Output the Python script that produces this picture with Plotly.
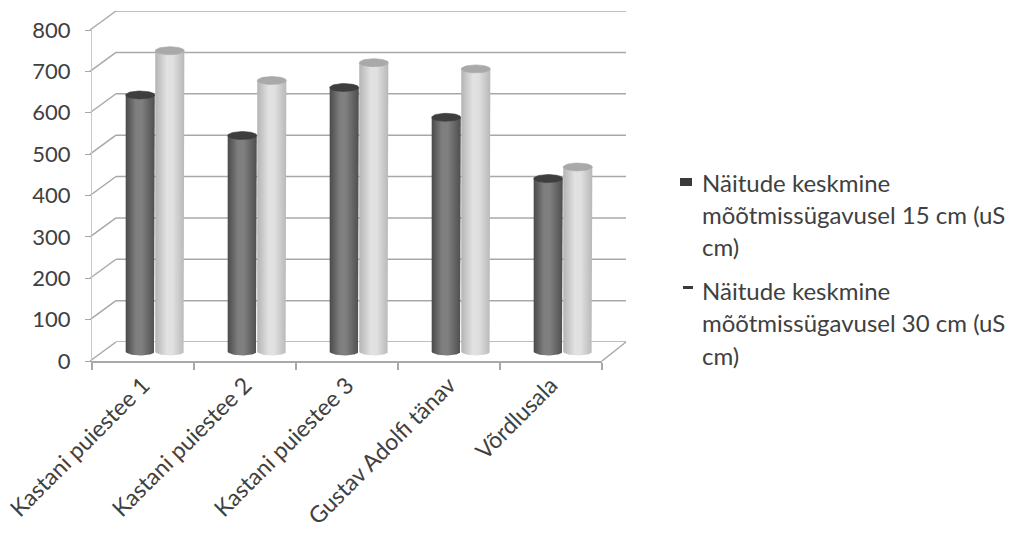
import numpy as np
import plotly.graph_objects as go

# Data
categories = ["Kastani puiestee 1", "Kastani puiestee 2", "Kastani puiestee 3",
              "Gustav Adolfi tänav", "Võrdlusala"]
series_names = ["Näitude keskmine mõõtmissügavusel 15 cm (uS cm)",
                "Näitude keskmine mõõtmissügavusel 30 cm (uS cm)"]
depth15 = [620, 522, 638, 566, 418]
depth30 = [727, 655, 698, 683, 446]
y_ticks = [0, 100, 200, 300, 400, 500, 600, 700, 800]

W, H = 1010, 536
FONT = "Lato"
TXT = "#404040"
GRID = "#a8a8a8"

# Pixel geometry of the pseudo-3D box (front face, back wall, mid plane)
FX0, FX1 = 92, 602        # front floor edge
FY0, FY1 = 361, 30        # front: value 0 / value 800
DX, DY = 24, -19          # depth offset to back wall


def xdom(x0, x1):
    return [x0 / W, x1 / W]


def ydom(y0, y1):
    return [1 - y0 / H, 1 - y1 / H]


fig = go.Figure()

# invisible traces to anchor the front and back-wall subplots
fig.add_trace(go.Scatter(x=[0], y=[0], mode="markers", marker=dict(opacity=0),
                         hoverinfo="skip", showlegend=False))
fig.add_trace(go.Scatter(x=[0], y=[0], xaxis="x2", yaxis="y2", mode="markers",
                         marker=dict(opacity=0), hoverinfo="skip", showlegend=False))

# ---- cylinders on the mid-depth plane (x3/y3) ----
ymax = 800
px_per_unit = (FY0 - FY1) / ymax
ry = 4.0 / px_per_unit            # ellipse half-height in data units
bar_w = 0.285
offs = [-0.145, 0.145]
body_scales = [
    [[0, "#4a4a4a"], [0.35, "#7e7e7e"], [0.55, "#808080"], [1, "#4e4e4e"]],
    [[0, "#b4b4b4"], [0.4, "#e2e2e2"], [0.6, "#e0e0e0"], [1, "#b8b8b8"]],
]
cap_colors = ["#3e3e3e", "#a9a9a9"]
th = np.linspace(0, np.pi, 40)
t2 = np.linspace(0, 2 * np.pi, 60)

for s, vals in enumerate([depth15, depth30]):
    for i, v in enumerate(vals):
        cx = i + offs[s]
        rx = bar_w / 2
        # body: left edge up, top, right edge down, rounded bottom
        bx = np.concatenate([[cx - rx, cx - rx, cx + rx, cx + rx],
                             cx + rx * np.cos(th)])
        by = np.concatenate([[0, v, v, 0], -ry * np.sin(th)])
        fig.add_trace(go.Scatter(
            x=bx, y=by, xaxis="x3", yaxis="y3", mode="lines",
            line=dict(width=0), fill="toself",
            fillgradient=dict(type="horizontal", colorscale=body_scales[s]),
            hoverinfo="skip", showlegend=False))
        # top cap ellipse
        fig.add_trace(go.Scatter(
            x=cx + rx * np.cos(t2), y=v + ry * np.sin(t2),
            xaxis="x3", yaxis="y3", mode="lines",
            line=dict(width=0.6, color=cap_colors[s]), fill="toself",
            fillcolor=cap_colors[s], hoverinfo="skip", showlegend=False))

xr = [-0.5, len(categories) - 0.5]
pad = 1.5 * ry                     # room below zero for the rounded bottoms

fig.update_layout(
    template="none",
    width=W, height=H, margin=dict(l=0, r=0, t=0, b=0, autoexpand=False),
    paper_bgcolor="white", plot_bgcolor="rgba(0,0,0,0)",
    showlegend=False,
    # front face: value labels and category labels
    xaxis=dict(domain=xdom(FX0, FX1), range=xr, showgrid=False, zeroline=False,
               automargin=False, ticklabeloverflow="allow",
               showline=True, linecolor=GRID, linewidth=1.5,
               tickvals=list(range(len(categories))), ticktext=categories,
               ticks="", tickangle=-45,
               tickfont=dict(family=FONT, size=23, color=TXT),
               minor=dict(tickvals=[k - 0.5 for k in range(len(categories) + 1)],
                          ticks="outside", ticklen=7, tickcolor=GRID, tickwidth=1.5,
                          showgrid=False),
               anchor="y"),
    yaxis=dict(domain=ydom(FY0, FY1), range=[0, ymax], showgrid=False,
               automargin=False, ticklabeloverflow="allow",
               zeroline=False, showline=True, linecolor="#c8c8c8", linewidth=1,
               tickvals=y_ticks, ticks="outside", ticklen=6, tickcolor=GRID,
               tickfont=dict(family=FONT, size=22, color=TXT),
               ticklabelstandoff=10, anchor="x"),
    # back wall plane
    xaxis2=dict(domain=xdom(FX0 + DX, FX1 + DX), range=xr, visible=False,
                automargin=False, anchor="y2"),
    yaxis2=dict(domain=ydom(FY0 + DY, FY1 + DY), range=[0, ymax],
                automargin=False, visible=False, showgrid=False, anchor="x2"),
    # mid-depth plane for the cylinders
    xaxis3=dict(domain=xdom(FX0 + DX / 2, FX1 + DX / 2), range=xr, visible=False,
                automargin=False, anchor="y3"),
    yaxis3=dict(domain=ydom(FY0 + DY / 2 + pad * px_per_unit, FY1 + DY / 2),
                range=[-pad, ymax],
                automargin=False, visible=False, anchor="x3"),
)

shapes = []
# back wall gridlines
for t in y_ticks:
    shapes.append(dict(type="line", xref="x2 domain", yref="y2",
                       x0=0, x1=1, y0=t, y1=t,
                       line=dict(color=GRID, width=1.5), layer="below"))
# side-wall diagonals at each value tick and the floor's right edge
for t in y_ticks:
    yf = FY0 - t * px_per_unit
    shapes.append(dict(type="line", xref="paper", yref="paper",
                       x0=(FX0 - 2) / W, y0=1 - yf / H,
                       x1=(FX0 + DX) / W, y1=1 - (yf + DY) / H,
                       line=dict(color=GRID, width=1.5), layer="below"))
shapes.append(dict(type="line", xref="paper", yref="paper",
                   x0=FX1 / W, y0=1 - FY0 / H, x1=(FX1 + DX) / W, y1=1 - (FY0 + DY) / H,
                   line=dict(color=GRID, width=1.5), layer="below"))

# legend markers
shapes.append(dict(type="rect", xref="paper", yref="paper",
                   x0=680 / W, x1=692 / W, y0=1 - 186 / H, y1=1 - 178 / H,
                   fillcolor="#3a3a3a", line=dict(width=0)))
shapes.append(dict(type="rect", xref="paper", yref="paper",
                   x0=683 / W, x1=693 / W, y0=1 - 289 / H, y1=1 - 286 / H,
                   fillcolor="#3a3a3a", line=dict(width=0)))
fig.update_layout(shapes=shapes)

# legend text, wrapped as in the original layout
legend_lines = [
    ["Näitude keskmine", "mõõtmissügavusel 15 cm (uS", "cm)"],
    ["Näitude keskmine", "mõõtmissügavusel 30 cm (uS", "cm)"],
]
starts = [182, 290]
annots = []
for e, lines in enumerate(legend_lines):
    for k, ln in enumerate(lines):
        annots.append(dict(text=ln, xref="paper", yref="paper",
                           x=700 / W, y=1 - (starts[e] + 32.5 * k) / H,
                           xanchor="left", yanchor="middle", showarrow=False,
                           font=dict(family=FONT, size=24, color=TXT)))
fig.update_layout(annotations=annots)

fig.write_html("out.html")
